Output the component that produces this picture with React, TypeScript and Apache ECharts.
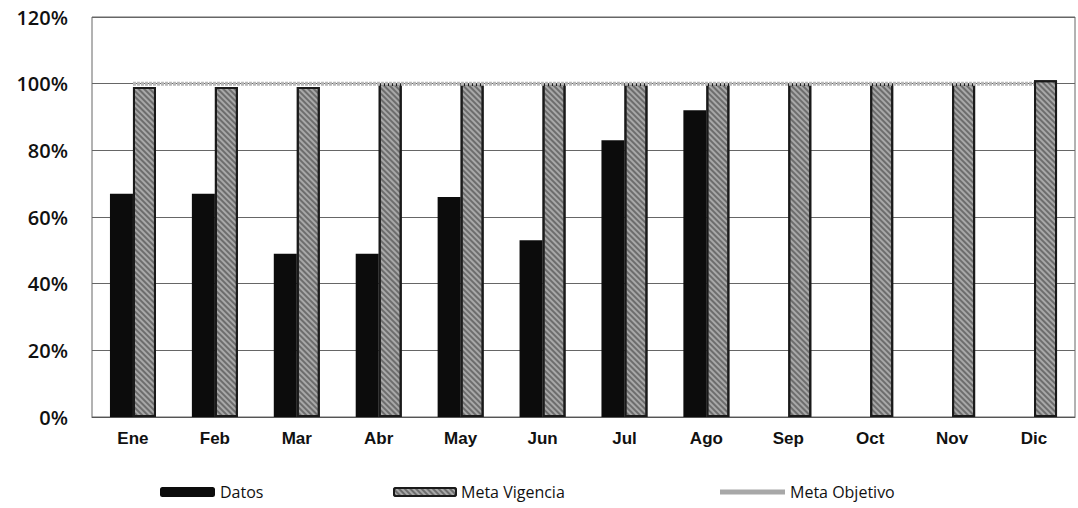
import React, { useEffect, useRef } from "react";
import * as echarts from "echarts";

const categories = ["Ene", "Feb", "Mar", "Abr", "May", "Jun", "Jul", "Ago", "Sep", "Oct", "Nov", "Dic"];
const datos: (number | null)[] = [67, 67, 49, 49, 66, 53, 83, 92, null, null, null, null];
const metaVigencia = [99, 99, 99, 100, 100, 100, 100, 100, 100, 100, 100, 101];
const metaObjetivo = [100, 100, 100, 100, 100, 100, 100, 100, 100, 100, 100, 100];
const yTicks = { min: 0, max: 120, interval: 20 };

const hatch = {
  symbol: "rect",
  symbolSize: 1,
  dashArrayX: [1, 0],
  dashArrayY: [2, 2],
  rotation: Math.PI / 4,
  color: "rgba(60,60,60,0.55)",
};

export default function App() {
  const ref = useRef<HTMLDivElement>(null);
  useEffect(() => {
    document.body.style.margin = "0";
    const chart = echarts.init(ref.current!, undefined, { renderer: "svg" });
    const legendText = { fontFamily: "Open Sans", fontSize: 16, fontWeight: 500, color: "#111" };
    chart.setOption({
      animation: false,
      backgroundColor: "#fff",
      grid: { left: 92, right: 3, top: 17, bottom: 91, show: true, borderColor: "#666", borderWidth: 1 },
      legend: [
        { data: ["Datos"], left: 155, top: 479, itemWidth: 55, itemHeight: 10, itemGap: 4, textStyle: legendText },
        { data: ["Meta Vigencia"], left: 388, top: 479, itemWidth: 62, itemHeight: 8, itemGap: 4, textStyle: legendText },
        {
          data: [{ name: "Meta Objetivo", icon: "rect" }],
          left: 715,
          top: 479,
          itemWidth: 65,
          itemHeight: 5,
          itemGap: 2,
          textStyle: legendText,
        },
      ],
      xAxis: {
        type: "category",
        data: categories,
        axisTick: { show: false },
        axisLine: { lineStyle: { color: "#555" } },
        axisLabel: { margin: 13, fontFamily: "Liberation Sans", fontWeight: "bold", fontSize: 17, color: "#111" },
      },
      yAxis: {
        type: "value",
        ...yTicks,
        axisLine: { show: false },
        axisTick: { show: false },
        splitLine: { lineStyle: { color: "#666", width: 1 } },
        axisLabel: {
          formatter: "{value}%",
          margin: 24,
          fontFamily: "Open Sans",
          fontWeight: 600,
          fontSize: 20,
          color: "#111",
        },
      },
      series: [
        {
          name: "Datos",
          type: "bar",
          data: datos,
          barWidth: 23,
          barGap: "0%",
          itemStyle: { color: "#0c0c0c" },
        },
        {
          name: "Meta Vigencia",
          type: "bar",
          data: metaVigencia,
          barWidth: 23,
          itemStyle: { color: "#a8a8a8", borderColor: "#1a1a1a", borderWidth: 2, decal: hatch },
        },
        {
          name: "Meta Objetivo",
          type: "line",
          data: metaObjetivo,
          symbol: "none",
          z: 5,
          lineStyle: { color: "#b8b8b8", width: 4, type: [3, 1] },
          itemStyle: { color: "#a8a8a8" },
        },
      ],
    });
    return () => chart.dispose();
  }, []);
  return <div ref={ref} style={{ width: 1078, height: 508 }} />;
}
